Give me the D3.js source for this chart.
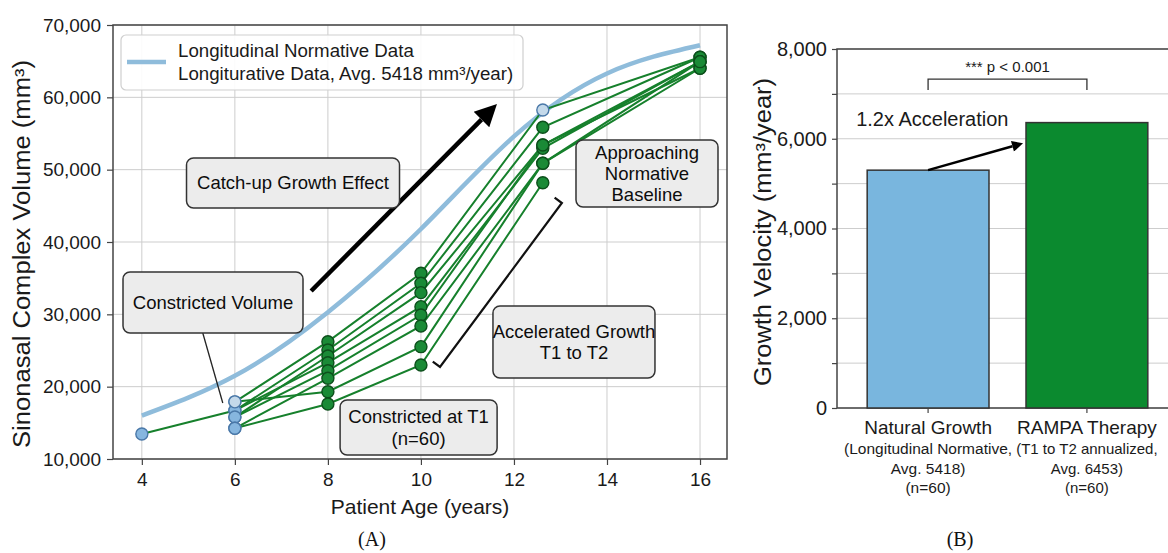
<!DOCTYPE html>
<html>
<head>
<meta charset="utf-8">
<script src="https://cdn.jsdelivr.net/npm/d3@7"></script>
<style>
  body { margin: 0; background: #fff; }
  svg { display: block; font-family: "Liberation Sans", Arial, sans-serif; }
  .grid line { stroke: #cdcdcd; stroke-width: 1; }
  .axis text { fill: #1a1a1a; }
  .axis path { display: none; }
  .axis line { stroke: #444; stroke-width: 1.2; }
  .note rect { fill: #ececec; stroke: #333; stroke-width: 1.5; }
  .note text { fill: #0d0d0d; text-anchor: middle; }
</style>
</head>
<body>
<script>
// ---- panel A data ----
var normAges = [4, 6, 8, 10, 12, 14, 16];
var normVolumes = [16000, 21500, 30300, 41800, 54600, 63300, 67200];

var visitAges = [4, 6, 8, 10, 12.62, 16];
// one row per patient trajectory, null = no visit at that age
var patientVolumes = [
  [null, 17900, 26220, 35670, 58250, 65540],
  [null, 16700, 25070, 34290, 55860, 65540],
  [null, 15800, 24240, 33000, 53410, 64930],
  [13450, 16700, 23310, 31060, 52950, 64930],
  [null, 15800, 22210, 29910, 53410, 64020],
  [null, 14250, 21160, 28390, 50880, 64020],
  [null, 17900, 19300, 25530, 50880, 64930],
  [null, 14250, 17600, 23000, 48200, null]
];

var xTicksA = [4, 6, 8, 10, 12, 14, 16];
var yTicksA = [10000, 20000, 30000, 40000, 50000, 60000, 70000];

// ---- panel B data ----
var groups = ["Natural Growth", "RAMPA Therapy"];
var groupNotes = [
  ["(Longitudinal Normative,", "Avg. 5418)", "(n=60)"],
  ["(T1 to T2 annualized,", "Avg. 6453)", "(n=60)"]
];
var velocities = [5300, 6360];
var yTicksB = [0, 2000, 4000, 6000, 8000];
var yMinorB = [1000, 3000, 5000, 7000];

var svg = d3.select("body").append("svg")
  .attr("width", 1168)
  .attr("height", 553);

var defs = svg.append("defs");
defs.append("marker")
  .attr("id", "bigHead")
  .attr("viewBox", "0 0 10 10")
  .attr("refX", 0).attr("refY", 5)
  .attr("markerUnits", "userSpaceOnUse")
  .attr("markerWidth", 24).attr("markerHeight", 22)
  .attr("orient", "auto")
  .append("path").attr("d", "M0,0 L10,5 L0,10 z").attr("fill", "#000");
defs.append("marker")
  .attr("id", "smallHead")
  .attr("viewBox", "0 0 10 10")
  .attr("refX", 0).attr("refY", 5)
  .attr("markerUnits", "userSpaceOnUse")
  .attr("markerWidth", 13).attr("markerHeight", 11)
  .attr("orient", "auto")
  .append("path").attr("d", "M0,0 L10,5 L0,10 z").attr("fill", "#000");

// draws a line ending in an arrowhead whose tip lands on (x2,y2)
function arrow(g, x1, y1, x2, y2, width, marker, headLen) {
  var dx = x2 - x1, dy = y2 - y1, len = Math.sqrt(dx * dx + dy * dy);
  g.append("line")
    .attr("x1", x1).attr("y1", y1)
    .attr("x2", x2 - dx / len * headLen).attr("y2", y2 - dy / len * headLen)
    .attr("stroke", "#000").attr("stroke-width", width)
    .attr("marker-end", "url(#" + marker + ")");
}

function note(g, cx, cy, w, h, lines, lh) {
  var n = g.append("g").attr("class", "note");
  n.append("rect")
    .attr("x", cx - w / 2).attr("y", cy - h / 2)
    .attr("width", w).attr("height", h)
    .attr("rx", 7);
  lines.forEach(function (t, i) {
    n.append("text")
      .attr("x", cx)
      .attr("y", cy - (lines.length - 1) * lh / 2 + i * lh + 6.5)
      .attr("font-size", "18.5px")
      .text(t);
  });
}

// ================= Panel A =================
var xA = d3.scaleLinear().domain([3.38, 16.58]).range([113, 727]);
var yA = d3.scaleLinear().domain([10000, 70000]).range([459, 25]);

var gA = svg.append("g");

gA.append("g").attr("class", "grid")
  .selectAll("line.v").data(xTicksA).enter().append("line")
  .attr("x1", d => xA(d)).attr("x2", d => xA(d))
  .attr("y1", yA(70000)).attr("y2", yA(10000));
gA.append("g").attr("class", "grid")
  .selectAll("line.h").data(yTicksA).enter().append("line")
  .attr("x1", xA(3.38)).attr("x2", xA(16.58))
  .attr("y1", d => yA(d)).attr("y2", d => yA(d));

gA.append("rect")
  .attr("x", xA(3.38)).attr("y", yA(70000))
  .attr("width", xA(16.58) - xA(3.38)).attr("height", yA(10000) - yA(70000))
  .attr("fill", "none").attr("stroke", "#444").attr("stroke-width", 1.5);

gA.append("g").attr("class", "axis")
  .attr("transform", "translate(" + xA(3.38) + ",0)")
  .call(d3.axisLeft(yA).tickValues(yTicksA).tickFormat(d3.format(",")).tickSize(6).tickPadding(6))
  .selectAll("text").attr("font-size", "19px");

gA.append("g").attr("class", "axis")
  .attr("transform", "translate(0," + yA(10000) + ")")
  .call(d3.axisBottom(xA).tickValues(xTicksA).tickSize(6).tickPadding(8))
  .selectAll("text").attr("font-size", "19px");

svg.append("text")
  .attr("transform", "translate(30,254) rotate(-90)")
  .attr("text-anchor", "middle")
  .attr("font-size", "23px").attr("fill", "#1a1a1a")
  .attr("textLength", 388).attr("lengthAdjust", "spacingAndGlyphs")
  .text("Sinonasal Complex Volume (mm³)");

svg.append("text")
  .attr("x", (xA(3.38) + xA(16.58)) / 2).attr("y", 514)
  .attr("text-anchor", "middle")
  .attr("font-size", "21px").attr("fill", "#1a1a1a")
  .text("Patient Age (years)");

// normative curve
var normLine = d3.line()
  .x(d => xA(d[0])).y(d => yA(d[1]))
  .curve(d3.curveNatural);
gA.append("path")
  .datum(normAges.map((a, i) => [a, normVolumes[i]]))
  .attr("d", normLine)
  .attr("fill", "none")
  .attr("stroke", "#8fbcdb")
  .attr("stroke-width", 4.5);

// catch-up arrow
arrow(gA, xA(7.64), yA(33230), xA(11.635), yA(59080), 4.5, "bigHead", 22);

// patient trajectories
var patLine = d3.line()
  .x(d => xA(d[0])).y(d => yA(d[1]));
gA.append("g").selectAll("path")
  .data(patientVolumes).enter().append("path")
  .attr("d", row => patLine(visitAges.map((a, i) => [a, row[i]]).filter(p => p[1] !== null)))
  .attr("fill", "none")
  .attr("stroke", "#16802c")
  .attr("stroke-width", 2);

// dots (baseline visits and points touching the norm are blue)
var normAt = d3.scaleLinear().domain(normAges).range(normVolumes);
var dots = [];
patientVolumes.forEach(function (row) {
  row.forEach(function (v, i) {
    if (v !== null) dots.push([visitAges[i], v]);
  });
});
gA.append("g").selectAll("circle")
  .data(dots).enter().append("circle")
  .attr("cx", d => xA(d[0])).attr("cy", d => yA(d[1]))
  .attr("r", 6)
  .attr("fill", function (d) {
    if (d[0] <= 6) return d[1] > 17000 ? "#c4d9ea" : "#86b6df";
    return Math.abs(normAt(d[0]) - d[1]) < 1000 ? "#c4d9ea" : "#1a8a36";
  })
  .attr("stroke", function (d) {
    if (d[0] <= 6 || Math.abs(normAt(d[0]) - d[1]) < 1000) return "#4a78a8";
    return "#0c4f1b";
  })
  .attr("stroke-width", 1.4);

// legend
var leg = gA.append("g");
leg.append("rect")
  .attr("x", 121).attr("y", 35).attr("width", 402).attr("height", 55).attr("rx", 5)
  .attr("fill", "#fff").attr("fill-opacity", 0.9)
  .attr("stroke", "#cfcfcf").attr("stroke-width", 1.2);
leg.append("line")
  .attr("x1", 127).attr("x2", 166).attr("y1", 62).attr("y2", 62)
  .attr("stroke", "#8fbcdb").attr("stroke-width", 4.5);
leg.append("text").attr("x", 178).attr("y", 57).attr("font-size", "18.7px").attr("fill", "#1a1a1a")
  .text("Longitudinal Normative Data");
leg.append("text").attr("x", 178).attr("y", 80).attr("font-size", "18.7px").attr("fill", "#1a1a1a")
  .text("Longiturative Data, Avg. 5418 mm³/year)");

// leader line for "Constricted Volume"
gA.append("line")
  .attr("x1", xA(5.31)).attr("y1", yA(27420))
  .attr("x2", xA(5.74)).attr("y2", yA(17740))
  .attr("stroke", "#222").attr("stroke-width", 1.3);

// bracket for accelerated growth, end ticks point up-left
var bx1 = xA(10.41), by1 = yA(22720), bx2 = xA(13.03), by2 = yA(45390);
var bl = Math.sqrt((bx2 - bx1) * (bx2 - bx1) + (by2 - by1) * (by2 - by1));
var ux = (bx2 - bx1) / bl, uy = (by2 - by1) / bl;
var px = uy * 9, py = -ux * 9;
gA.append("path")
  .attr("d", "M" + (bx1 + px) + "," + (by1 + py) + "L" + bx1 + "," + by1 +
    "L" + bx2 + "," + by2 + "L" + (bx2 + px) + "," + (by2 + py))
  .attr("fill", "none").attr("stroke", "#111").attr("stroke-width", 2.2);

note(gA, xA(7.25), yA(48160), 213, 50, ["Catch-up Growth Effect"], 22);
note(gA, xA(5.53), yA(31640), 180, 61, ["Constricted Volume"], 22);
note(gA, xA(9.95), yA(14355), 157, 55, ["Constricted at T1", "(n=60)"], 22);
note(gA, xA(13.29), yA(26175), 162, 72, ["Accelerated Growth", "T1 to T2"], 21);
note(gA, xA(14.86), yA(49470), 142, 67, ["Approaching", "Normative", "Baseline"], 21);

svg.append("text")
  .attr("x", 372).attr("y", 546)
  .attr("text-anchor", "middle")
  .attr("font-family", "'Liberation Serif', 'Times New Roman', serif")
  .attr("font-size", "20px").attr("fill", "#111")
  .text("(A)");

// ================= Panel B =================
var yB = d3.scaleLinear().domain([0, 8000]).range([408, 49]);
var xB = d3.scaleBand().domain(groups).range([837, 1178])
  .paddingInner(0.233).paddingOuter(0.19);

var gB = svg.append("g");

gB.append("g").attr("class", "grid")
  .selectAll("line").data(yTicksB.concat(yMinorB)).enter().append("line")
  .attr("x1", 837).attr("x2", 1178)
  .attr("y1", d => yB(d)).attr("y2", d => yB(d));

gB.append("rect")
  .attr("x", 837).attr("y", yB(8000))
  .attr("width", 1178 - 837).attr("height", yB(0) - yB(8000))
  .attr("fill", "none").attr("stroke", "#444").attr("stroke-width", 1.5);

gB.append("g").attr("class", "axis")
  .attr("transform", "translate(837,0)")
  .call(d3.axisLeft(yB).tickValues(yTicksB).tickFormat(d3.format(",")).tickSize(5).tickPadding(5))
  .selectAll("text").attr("font-size", "20px");
gB.append("g").attr("class", "axis")
  .attr("transform", "translate(837,0)")
  .call(d3.axisLeft(yB).tickValues(yMinorB).tickFormat("").tickSize(5));

svg.append("text")
  .attr("transform", "translate(771,232) rotate(-90)")
  .attr("text-anchor", "middle")
  .attr("font-size", "23px").attr("fill", "#1a1a1a")
  .attr("textLength", 308).attr("lengthAdjust", "spacingAndGlyphs")
  .text("Growth Velocity (mm³/year)");

gB.selectAll("rect.bar")
  .data(velocities).enter().append("rect")
  .attr("class", "bar")
  .attr("x", (d, i) => xB(groups[i]))
  .attr("y", d => yB(d))
  .attr("width", xB.bandwidth())
  .attr("height", d => yB(0) - yB(d))
  .attr("fill", (d, i) => i === 0 ? "#79b6de" : "#0b8a2f")
  .attr("stroke", "#333").attr("stroke-width", 1.5);

gB.append("g").attr("class", "axis")
  .attr("transform", "translate(0," + yB(0) + ")")
  .call(d3.axisBottom(xB).tickFormat("").tickSize(5));

groups.forEach(function (name, i) {
  var cx = xB(name) + xB.bandwidth() / 2;
  gB.append("text")
    .attr("x", cx).attr("y", 434)
    .attr("text-anchor", "middle").attr("font-size", "19px").attr("fill", "#1a1a1a")
    .text(name);
  groupNotes[i].forEach(function (t, j) {
    gB.append("text")
      .attr("x", cx).attr("y", 454 + j * 19.5)
      .attr("text-anchor", "middle")
      .attr("font-size", i === 0 ? "15.5px" : "15px")
      .attr("fill", "#1a1a1a")
      .text(t);
  });
});

// significance bracket
var c0 = xB(groups[0]) + xB.bandwidth() / 2, c1 = xB(groups[1]) + xB.bandwidth() / 2;
gB.append("path")
  .attr("d", "M" + c0 + "," + yB(7085) + "V" + yB(7330) + "H" + c1 + "V" + yB(7085))
  .attr("fill", "none").attr("stroke", "#333").attr("stroke-width", 1.3);
gB.append("text")
  .attr("x", (c0 + c1) / 2).attr("y", yB(7486))
  .attr("text-anchor", "middle").attr("font-size", "15px").attr("fill", "#1a1a1a")
  .text("*** p < 0.001");

gB.append("text")
  .attr("x", xB(groups[0]) - 11).attr("y", yB(6283))
  .attr("font-size", "20px").attr("fill", "#1a1a1a")
  .text("1.2x Acceleration");

arrow(gB, c0, yB(velocities[0]), xB(groups[1]) - 2, yB(5905), 2.5, "smallHead", 12);

svg.append("text")
  .attr("x", 960).attr("y", 546)
  .attr("text-anchor", "middle")
  .attr("font-family", "'Liberation Serif', 'Times New Roman', serif")
  .attr("font-size", "20px").attr("fill", "#111")
  .text("(B)");
</script>
</body>
</html>
